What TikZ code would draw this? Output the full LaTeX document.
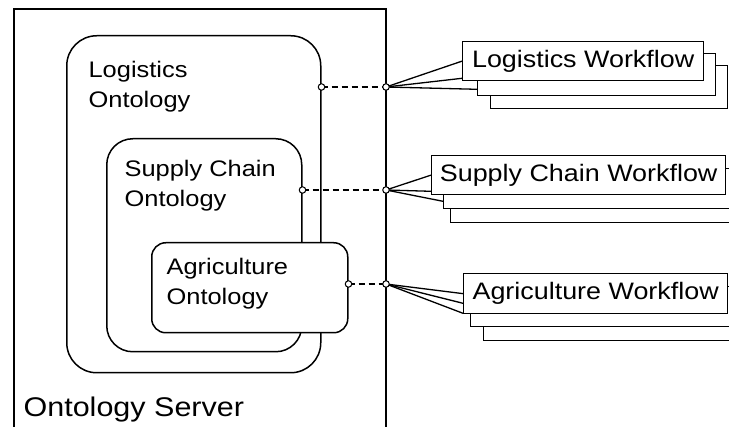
\documentclass[tikz,border=0pt]{standalone}
\usepackage{fontspec}
\setmainfont{Liberation Sans}[FakeStretch=1.13]
\usetikzlibrary{positioning,calc}

\begin{document}
\begin{tikzpicture}[x=1pt, y=-1pt,
  line width=1.2pt,
  txt/.style={font=\fontsize{22.5}{30}\selectfont, inner sep=0pt},
  onto/.style={draw, fill=white, rounded corners=#1, anchor=north west, inner sep=0pt, line width=1.5pt},
  lbl/.style={txt, align=left, anchor=north west},
  wf/.style={draw, fill=white, anchor=north west, inner sep=0pt, line width=1.3pt},
  wftxt/.style={wf, font=\fontsize{23.8}{30}\selectfont},
  port/.style={circle, draw, fill=white, inner sep=0pt, minimum size=6.5pt, line width=1pt},
  link/.style={dash pattern=on 6pt off 4pt},
  arm/.style={line width=1.3pt}]
\useasboundingbox (0,0) rectangle (729,427);
\clip (0,0) rectangle (729,427);
% server frame, right edge is the bus
\draw (14,432) coordinate (srvsw) -- (14,9) -- (386,9) -- (386,432) coordinate (srvse);
\node[txt, font=\fontsize{27}{30}\selectfont, anchor=base west] (srvtxt) at (23,417) {Ontology Server};
% nested ontologies
\node[onto=30pt, minimum width=254pt, minimum height=337pt] (logonto) at (66,35) {};
\node[onto=26pt, minimum width=195pt, minimum height=213pt] (suponto) at (106,138) {};
\node[onto=14pt, minimum width=196pt, minimum height=90pt] (agronto) at (151,242) {};
\node[lbl] (logtxt) at (88,61) {Logistics\\Ontology};
\node[lbl] (suptxt) at (124,160) {Supply Chain\\Ontology};
\node[lbl] (agrtxt) at (166,258) {Agriculture\\Ontology};
% ports
\coordinate (logp) at (logonto.east |- 0,87);
\coordinate (supp) at (suponto.east |- 0,190);
\coordinate (agrp) at (agronto.east |- 0,284);
\coordinate (logh) at (srvse |- logp);
\coordinate (suph) at (srvse |- supp);
\coordinate (agrh) at (srvse |- agrp);
% workflow stacks
\node[wf, minimum width=237pt, minimum height=43pt] (lw3) at (490,65) {};
\node[wf, minimum width=238pt, minimum height=42pt] (lw2) at (477,53) {};
\node[wftxt, minimum width=241pt, minimum height=39pt] (lw1) at (462,41) {Logistics Workflow};
\node[wf, minimum width=300pt, minimum height=40pt] (sw3) at (450,182) {};
\node[wf, minimum width=300pt, minimum height=40pt] (sw2) at (443,168) {};
\node[wftxt, minimum width=294pt, minimum height=39pt] (sw1) at (431,155) {Supply Chain Workflow};
\node[wf, minimum width=270pt, minimum height=40pt] (aw3) at (483,300) {};
\node[wf, minimum width=270pt, minimum height=40pt] (aw2) at (470,286) {};
\node[wftxt, minimum width=264pt, minimum height=40pt] (aw1) at (463,273) {Agriculture Workflow};
% links
\draw[link] (logp) -- (logh);
\draw[link] (supp) -- (suph);
\draw[link] (agrp) -- (agrh);
\draw[arm] (logh) -- (lw1.west);
\draw[arm] (logh) -- ($(lw1.south west)+(0,-3)$);
\draw[arm] (logh) -- ($(lw2.south west)+(0,-7)$);
\draw[arm] (suph) -- (sw1.west);
\draw[arm] (suph) -- ($(sw1.south west)+(0,-4)$);
\draw[arm] (suph) -- ($(sw2.south west)+(0,-8)$);
\draw[arm] (agrh) -- (aw1.west);
\draw[arm] (agrh) -- ($(aw1.south west)+(0,-11)$);
\draw[arm] (agrh) -- ($(aw1.south west)+(0,-1)$);
\foreach \p in {logp,logh,supp,suph,agrp,agrh}
  \node[port] at (\p) {};
\end{tikzpicture}
\end{document}
